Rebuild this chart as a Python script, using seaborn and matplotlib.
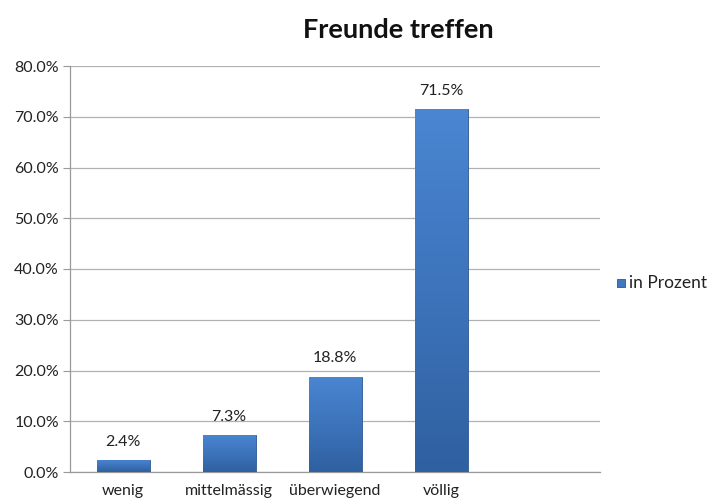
import matplotlib
matplotlib.use("Agg")
import matplotlib.pyplot as plt
import numpy as np
import pandas as pd
import seaborn as sns
from matplotlib.colors import LinearSegmentedColormap
from matplotlib.ticker import FuncFormatter, FixedLocator

# Data
categories = ["wenig", "mittelmässig", "überwiegend", "völlig"]
values = [2.4, 7.3, 18.8, 71.5]
series_name = "in Prozent"
title = "Freunde treffen"

sns.set_style("white")
plt.rcParams["font.family"] = ["Lato", "DejaVu Sans"]

df = pd.DataFrame({"Kategorie": categories, "Wert": values})

fig = plt.figure(figsize=(7.18, 5.04), dpi=100)
ax = fig.add_axes([70 / 718, 1 - 472 / 504, 530 / 718, 406 / 504])

sns.barplot(data=df, x="Kategorie", y="Wert", color="#4179bf", width=0.5,
            edgecolor="#2b5792", linewidth=0.6, saturation=1, ax=ax, zorder=3)

# vertical gradient inside each bar (light top, darker bottom)
grad_cmap = LinearSegmentedColormap.from_list("bar", ["#2f60a0", "#3d74bb", "#4a86d2"])
grad = np.linspace(0, 1, 256).reshape(-1, 1)
for patch in ax.patches:
    x0, y0 = patch.get_x(), patch.get_y()
    w, h = patch.get_width(), patch.get_height()
    im = ax.imshow(grad, cmap=grad_cmap, aspect="auto", origin="lower",
                   extent=[x0, x0 + w, y0, y0 + h], zorder=3.5)
    im.set_clip_path(patch)

# empty fifth slot like the original
ax.set_xlim(-0.5, len(categories) + 0.5)
ax.set_ylim(0, 80)
ax.set_yticks(np.arange(0, 81, 10))
ax.yaxis.set_major_formatter(FuncFormatter(lambda v, _: f"{v:.1f}%"))
ax.grid(axis="y", color="#b0b0b0", linewidth=0.9, zorder=0)

ax.set_xticks(range(len(categories)))
ax.set_xticklabels(categories)
ax.xaxis.set_minor_locator(FixedLocator(np.arange(-0.5, len(categories) + 1, 1)))
ax.tick_params(axis="x", which="major", length=0, pad=9, labelsize=11.5, colors="#222222")
ax.tick_params(axis="x", which="minor", length=5, color="#999999", direction="out")
ax.tick_params(axis="y", length=5, color="#999999", direction="out", left=True,
               labelsize=11.5, labelcolor="#222222", pad=3)
ax.set_xlabel("")
ax.set_ylabel("")

for s in ["top", "right"]:
    ax.spines[s].set_visible(False)
for s in ["left", "bottom"]:
    ax.spines[s].set_color("#999999")
    ax.spines[s].set_linewidth(0.9)

for i, v in enumerate(values):
    ax.text(i, v + 2.2, f"{v:.1f}%", ha="center", va="bottom", fontsize=11.5, color="#222222")

fig.text(398 / 718, 1 - 30 / 504, title, ha="center", va="center",
         fontsize=19.5, fontweight="bold", color="#111111")

# legend
fig.patches.append(plt.Rectangle((617 / 718, 1 - 287 / 504), 8 / 718, 8 / 504,
                                 transform=fig.transFigure, facecolor="#4179bf",
                                 edgecolor="#2b5792", linewidth=0.6))
fig.text(629 / 718, 1 - 283 / 504, series_name, ha="left", va="center",
         fontsize=12.5, color="#222222")

fig.savefig("out.png", dpi=100)
